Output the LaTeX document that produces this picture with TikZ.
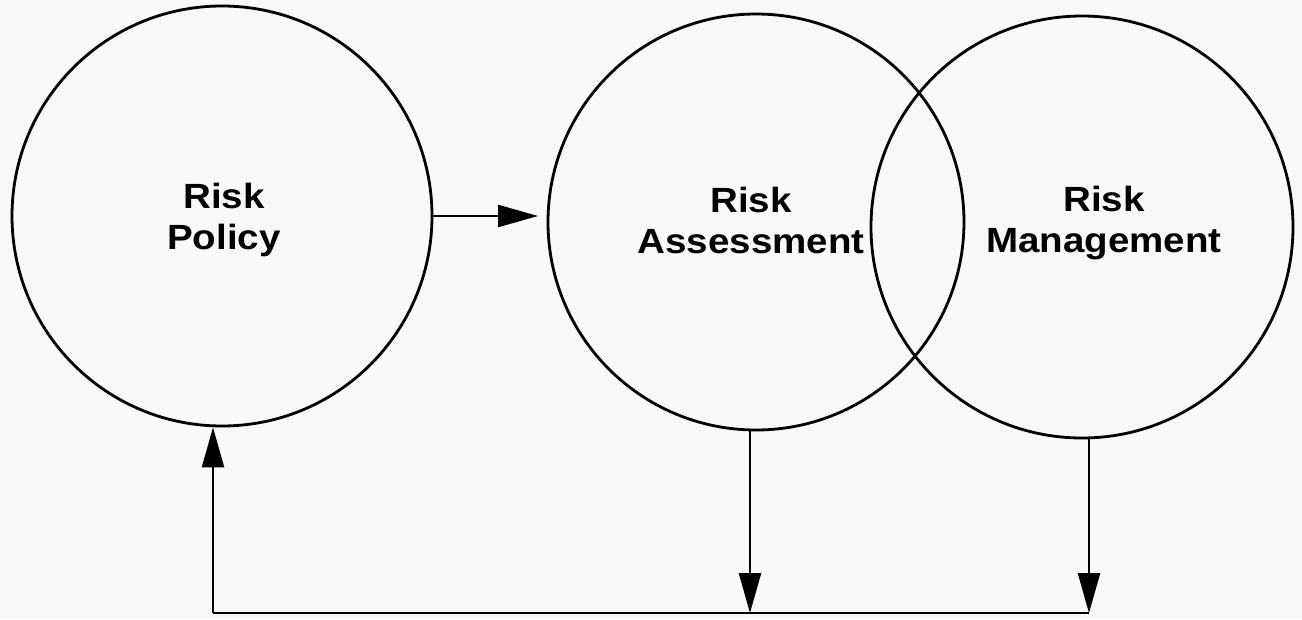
\documentclass[tikz,border=0pt]{standalone}
\usepackage{fontspec}
\usepackage{graphicx}
\setmainfont{Liberation Sans}
\usetikzlibrary{arrows.meta}
\definecolor{bg}{RGB}{248,248,248}
\begin{document}
\begin{tikzpicture}[x=1pt,y=-1pt,
  ring/.style={circle,draw,line width=2.8pt,inner sep=0pt,minimum size=#1},
  lbl/.style={align=center,font=\fontsize{35}{41}\selectfont\bfseries,inner sep=0pt},
  conn/.style={line width=2.4pt},
  arr/.style={conn,-{Triangle[length=40pt,width=22pt]}}]
\fill[bg] (0,0) rectangle (1302,619);
\useasboundingbox (0,0) rectangle (1302,619);
\node[ring=420pt] (c1) at (222,216) {};
\node[ring=416pt] (c2) at (756,222) {};
\node[ring=422pt] (c3) at (1082,227) {};
\node[lbl] (t1) at (224,220) {\scalebox{1.1}[1]{Risk}\\\scalebox{1.1}[1]{Policy}};
\node[lbl] (t2) at (751,220) {\scalebox{1.1}[1]{Risk}\\\scalebox{1.1}[1]{Assessment}};
\node[lbl] (t3) at (1104,223) {\scalebox{1.1}[1]{Risk}\\\scalebox{1.1}[1]{Management}};
\coordinate (a1) at (538,216);
\coordinate (b1) at (213,613);
\coordinate (b2) at (750,613);
\coordinate (b3) at (1089,613);
\draw[arr] (c1.east) -- (a1);
\draw[arr] (b1) -- (b1 |- c1.south);
\draw[arr] (b2 |- c2.south) -- (b2);
\draw[arr] (b3 |- c3.south) -- (b3);
\draw[conn] (b1) -- (b3);
\end{tikzpicture}
\end{document}
